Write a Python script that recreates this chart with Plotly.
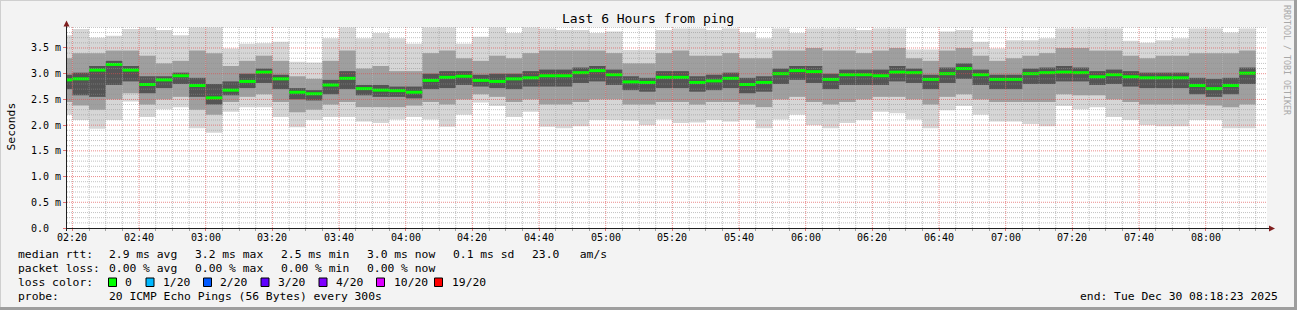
import pandas as pd
import plotly.graph_objects as go

# ---------------- data (ms) ----------------
bar_end = pd.date_range("2025-12-30 02:20", periods=72, freq="5min")

median = [2.88, 2.90, 3.07, 3.18, 3.07, 2.79, 2.88, 2.96, 2.77, 2.53, 2.68, 2.85,
          3.03, 2.90, 2.64, 2.61, 2.78, 2.91, 2.71, 2.68, 2.67, 2.64, 2.87, 2.93,
          2.95, 2.87, 2.85, 2.90, 2.92, 2.96, 2.96, 3.02, 3.06, 2.98, 2.84, 2.83,
          2.93, 2.93, 2.83, 2.86, 2.91, 2.79, 2.83, 3.00, 3.06, 3.04, 2.89, 2.98,
          2.98, 2.96, 3.03, 3.02, 2.89, 3.00, 3.10, 2.98, 2.89, 2.89, 3.00, 3.02,
          3.03, 3.02, 2.94, 2.98, 2.94, 2.92, 2.92, 2.92, 2.77, 2.71, 2.77, 3.01]
ping_min = [2.20, 2.10, 1.93, 2.10, 2.46, 2.16, 2.31, 2.35, 1.94, 1.85, 2.26, 2.35,
            2.35, 2.16, 1.96, 2.10, 2.16, 2.16, 2.07, 2.04, 2.11, 2.16, 2.11, 1.97,
            2.20, 2.44, 2.37, 2.16, 2.26, 1.97, 1.94, 1.98, 2.10, 2.10, 2.09, 2.00,
            2.11, 2.04, 2.05, 2.10, 2.07, 2.10, 1.94, 2.11, 2.20, 2.00, 1.94, 2.04,
            2.10, 2.26, 2.23, 2.11, 1.94, 2.29, 2.37, 2.20, 2.07, 2.07, 2.02, 1.98,
            2.37, 2.31, 2.35, 2.16, 2.10, 2.00, 1.98, 1.98, 2.10, 2.10, 1.94, 1.94]
ping_lo = [2.45, 2.38, 2.30, 2.50, 2.62, 2.40, 2.50, 2.55, 2.30, 2.20, 2.45, 2.55,
           2.60, 2.45, 2.25, 2.30, 2.40, 2.45, 2.35, 2.35, 2.35, 2.38, 2.45, 2.40,
           2.50, 2.60, 2.55, 2.45, 2.50, 2.40, 2.40, 2.45, 2.50, 2.50, 2.40, 2.40,
           2.45, 2.45, 2.40, 2.45, 2.45, 2.40, 2.35, 2.50, 2.55, 2.45, 2.40, 2.45,
           2.50, 2.55, 2.55, 2.50, 2.40, 2.55, 2.60, 2.50, 2.45, 2.45, 2.45, 2.45,
           2.60, 2.58, 2.58, 2.50, 2.45, 2.40, 2.40, 2.40, 2.40, 2.38, 2.35, 2.40]
core_lo = [2.70, 2.58, 2.55, 2.78, 2.85, 2.62, 2.72, 2.80, 2.55, 2.40, 2.58, 2.72,
           2.82, 2.70, 2.50, 2.48, 2.60, 2.70, 2.58, 2.55, 2.55, 2.52, 2.70, 2.72,
           2.78, 2.75, 2.72, 2.70, 2.75, 2.75, 2.75, 2.82, 2.85, 2.78, 2.68, 2.65,
           2.72, 2.72, 2.65, 2.68, 2.72, 2.62, 2.65, 2.80, 2.88, 2.82, 2.70, 2.78,
           2.78, 2.78, 2.85, 2.82, 2.70, 2.82, 2.90, 2.78, 2.70, 2.70, 2.80, 2.80,
           2.85, 2.85, 2.78, 2.80, 2.75, 2.72, 2.72, 2.72, 2.60, 2.55, 2.60, 2.80]
core_hi = [2.98, 3.02, 3.15, 3.25, 3.15, 2.95, 2.95, 3.02, 2.92, 2.80, 2.85, 3.00,
           3.10, 2.98, 2.72, 2.68, 2.88, 3.05, 2.78, 2.78, 2.75, 2.75, 3.00, 3.05,
           3.05, 2.98, 3.00, 3.00, 3.05, 3.08, 3.08, 3.12, 3.15, 3.08, 2.95, 2.92,
           3.05, 3.05, 2.95, 2.98, 3.02, 2.92, 2.95, 3.10, 3.15, 3.15, 3.00, 3.08,
           3.08, 3.08, 3.15, 3.10, 2.98, 3.12, 3.20, 3.08, 2.98, 2.98, 3.10, 3.12,
           3.15, 3.12, 3.05, 3.08, 3.05, 3.02, 3.02, 3.02, 2.92, 2.90, 2.92, 3.12]
ping_hi = [3.30, 3.40, 3.40, 3.45, 3.45, 3.35, 3.20, 3.25, 3.45, 3.40, 3.15, 3.25,
           3.35, 3.25, 2.95, 2.90, 3.25, 3.45, 3.10, 3.15, 3.05, 3.05, 3.40, 3.45,
           3.30, 3.25, 3.35, 3.30, 3.40, 3.45, 3.45, 3.45, 3.45, 3.40, 3.20, 3.20,
           3.40, 3.45, 3.35, 3.35, 3.40, 3.30, 3.30, 3.45, 3.45, 3.50, 3.45, 3.45,
           3.40, 3.45, 3.50, 3.30, 3.25, 3.45, 3.50, 3.35, 3.25, 3.30, 3.35, 3.40,
           3.50, 3.50, 3.45, 3.45, 3.35, 3.30, 3.35, 3.35, 3.40, 3.40, 3.40, 3.45]
ping_max = [3.75, 3.87, 3.70, 3.74, 3.87, 3.90, 3.85, 3.75, 3.90, 3.90, 3.49, 3.58,
            3.59, 3.62, 3.23, 3.22, 3.69, 3.90, 3.69, 3.79, 3.69, 3.58, 3.90, 3.90,
            3.58, 3.72, 3.90, 3.79, 3.90, 3.88, 3.85, 3.85, 3.79, 3.82, 3.46, 3.46,
            3.85, 3.88, 3.88, 3.85, 3.88, 3.80, 3.69, 3.88, 3.79, 3.88, 3.88, 3.88,
            3.85, 3.88, 3.88, 3.47, 3.47, 3.82, 3.85, 3.62, 3.49, 3.65, 3.65, 3.69,
            3.88, 3.88, 3.88, 3.88, 3.64, 3.60, 3.65, 3.69, 3.88, 3.88, 3.80, 3.88]

y_tick_vals = [0.0, 0.5, 1.0, 1.5, 2.0, 2.5, 3.0, 3.5]
y_tick_text = ["0.0\u00a0\u00a0", "0.5 m", "1.0 m", "1.5 m", "2.0 m", "2.5 m", "3.0 m", "3.5 m"]
x_tick_times = pd.date_range("2025-12-30 02:20", "2025-12-30 08:00", freq="20min")

legend_rtt = ["2.9 ms avg", "3.2 ms max", "2.5 ms min", "3.0 ms now", "0.1 ms sd", "23.0   am/s"]
legend_loss = ["0.00 % avg", "0.00 % max", "0.00 % min", "0.00 % now"]
loss_labels = ["0", "1/20", "2/20", "3/20", "4/20", "10/20", "19/20"]
loss_colors = ["#00ff00", "#00b8ff", "#0059ff", "#5e00ff", "#7e00ff", "#dd00ff", "#ff0000"]

# ---------------- geometry ----------------
W, H = 1297, 310
PL, PR, PT, PB = 67, 1267, 27, 228
t_end = pd.Timestamp("2025-12-30 08:18:23")
t_start = t_end - pd.Timedelta(hours=6)
Y_TOP = 3.908
FONT = "DejaVu Sans Mono"


def px(x):
    return (x - PL) / (PR - PL)


def py(y):
    return (PB - y) / (PB - PT)


step = pd.Timedelta(minutes=5)
centers = bar_end - step / 2

fig = go.Figure()
layers = [(ping_min, ping_max, "#d6d6d6"),
          (ping_lo, ping_hi, "#9f9f9f"),
          (core_lo, core_hi, "#545454")]
for lo, hi, col in layers:
    fig.add_trace(go.Bar(x=centers, y=[h - l for l, h in zip(lo, hi)], base=lo,
                         width=300000, marker=dict(color=col, line=dict(width=0)),
                         hoverinfo="skip", showlegend=False))

mx, my = [], []
for e, m in zip(bar_end, median):
    mx += [e - step, e, None]
    my += [m, m, None]
fig.add_trace(go.Scatter(x=mx, y=my, mode="lines", line=dict(color="#00ff00", width=3),
                         hoverinfo="skip", showlegend=False))

shapes = []
# grid (drawn above the smoke, like rrdtool)
minor_col = "rgba(143,143,143,0.55)"
major_col = "rgba(222,79,79,0.65)"
gt = pd.Timestamp("2025-12-30 02:20")
while gt < t_end:
    is_major = (gt.minute % 20 == 0)
    shapes.append(dict(type="line", xref="x", yref="paper", x0=gt, x1=gt, y0=0, y1=1,
                       line=dict(color=major_col if is_major else minor_col, width=1, dash="1px,1px"),
                       layer="above"))
    gt += step
for k in range(1, 40):
    v = k / 10
    if v > Y_TOP:
        break
    is_major = (k % 5 == 0)
    shapes.append(dict(type="line", xref="paper", yref="y", x0=0, x1=1, y0=v, y1=v,
                       line=dict(color=major_col if is_major else minor_col, width=1, dash="1px,1px"),
                       layer="above"))

axis_col = "#202020"
arrow_col = "#801f1f"
# axes lines
shapes.append(dict(type="line", xref="paper", yref="paper", x0=px(PL - 0.5), x1=px(1271), y0=py(228.5), y1=py(228.5),
                   line=dict(color=axis_col, width=1), layer="above"))
shapes.append(dict(type="line", xref="paper", yref="paper", x0=px(66.5), x1=px(66.5), y0=py(231), y1=py(24),
                   line=dict(color=axis_col, width=1), layer="above"))
# arrows
shapes.append(dict(type="path", xref="paper", yref="paper",
                   path=f"M {px(63.5)} {py(26.5)} L {px(69.5)} {py(26.5)} L {px(66.5)} {py(20.5)} Z",
                   fillcolor=arrow_col, line=dict(width=0), layer="above"))
shapes.append(dict(type="path", xref="paper", yref="paper",
                   path=f"M {px(1269)} {py(225.5)} L {px(1269)} {py(231.5)} L {px(1275)} {py(228.5)} Z",
                   fillcolor=arrow_col, line=dict(width=0), layer="above"))
# frame shading
shapes.append(dict(type="line", xref="paper", yref="paper", x0=px(0), x1=px(W), y0=py(0.5), y1=py(0.5),
                   line=dict(color="#cfcfcf", width=1), layer="above"))
shapes.append(dict(type="line", xref="paper", yref="paper", x0=px(0.5), x1=px(0.5), y0=py(0), y1=py(H),
                   line=dict(color="#cfcfcf", width=1), layer="above"))
shapes.append(dict(type="line", xref="paper", yref="paper", x0=px(0), x1=px(W), y0=py(H - 1.5), y1=py(H - 1.5),
                   line=dict(color="#9e9e9e", width=3), layer="above"))
shapes.append(dict(type="line", xref="paper", yref="paper", x0=px(W - 1.5), x1=px(W - 1.5), y0=py(0), y1=py(H),
                   line=dict(color="#9e9e9e", width=3), layer="above"))

# loss color boxes
box_x = [108.5, 146, 203.5, 261, 319, 376.5, 434.5]
lab_x = [123.3, 160.7, 218.3, 276.3, 334, 392.3, 450]
for bx, c in zip(box_x, loss_colors):
    shapes.append(dict(type="rect", xref="paper", yref="paper", x0=px(bx), x1=px(bx + 8),
                       y0=py(278), y1=py(286.5), fillcolor=c, line=dict(color="#000000", width=1),
                       layer="above"))

ann = []


def text(x, y, s, size=11.33, anchor="left", color="#000000", angle=0, xref="paper"):
    ann.append(dict(x=px(x) if xref == "paper" else x, y=py(y), xref=xref, yref="paper", text=s,
                    showarrow=False, xanchor=anchor, yanchor="middle", textangle=angle,
                    font=dict(family=FONT, size=size, color=color)))


text(648, 19, "Last 6 Hours from ping", size=13, anchor="center")
text(10.5, 127, "Seconds", size=11.33, anchor="center", angle=-90)
text(1287, 60, "RRDTOOL / TOBI OETIKER", size=8.3, anchor="center", color="#a8a8a8", angle=90)
for tt in x_tick_times:
    text(tt, 237.5, tt.strftime("%H:%M"), size=10, anchor="center", xref="x")

col_x = [107.3, 193.3, 279.3, 365.3, 451.3, 530]
text(16, 254, "median rtt:")
for cx, s in zip(col_x, legend_rtt):
    text(cx, 254, s.replace(" ", "\u00a0"))
text(16, 268, "packet loss:")
for cx, s in zip(col_x, legend_loss):
    text(cx, 268, s.replace(" ", "\u00a0"))
text(16, 282, "loss color:")
for lx, s in zip(lab_x, loss_labels):
    text(lx, 282, s)
text(16, 296, "probe:")
text(107.3, 296, "20 ICMP Echo Pings (56 Bytes) every 300s".replace(" ", "\u00a0"))
text(1280, 296, "end: Tue Dec 30 08:18:23 2025".replace(" ", "\u00a0"), anchor="right")

fig.update_layout(
    width=W, height=H,
    margin=dict(l=PL, r=W - PR, t=PT, b=H - PB, pad=0, autoexpand=False),
    paper_bgcolor="#f3f3f3", plot_bgcolor="#ffffff",
    barmode="overlay", showlegend=False,
    shapes=shapes, annotations=ann,
    font=dict(family=FONT, size=10, color="#000000"),
    xaxis=dict(type="date", range=[t_start, t_end], showgrid=False, zeroline=False, showline=False,
               tick0="2025-12-30 02:20:00", dtick=1200000, showticklabels=False,
               ticks="outside", ticklen=2, tickcolor="rgba(222,79,79,0.8)",
               minor=dict(dtick=300000, tick0="2025-12-30 02:20:00", ticks="outside", ticklen=2,
                          tickcolor="rgba(143,143,143,0.8)", showgrid=False)),
    yaxis=dict(range=[0, Y_TOP], showgrid=False, zeroline=False, showline=False,
               tickvals=y_tick_vals, ticktext=y_tick_text,
               ticks="outside", ticklen=3, tickcolor="rgba(222,79,79,0.8)",
               tickfont=dict(family=FONT, size=10)),
)

fig.write_html("out.html")
